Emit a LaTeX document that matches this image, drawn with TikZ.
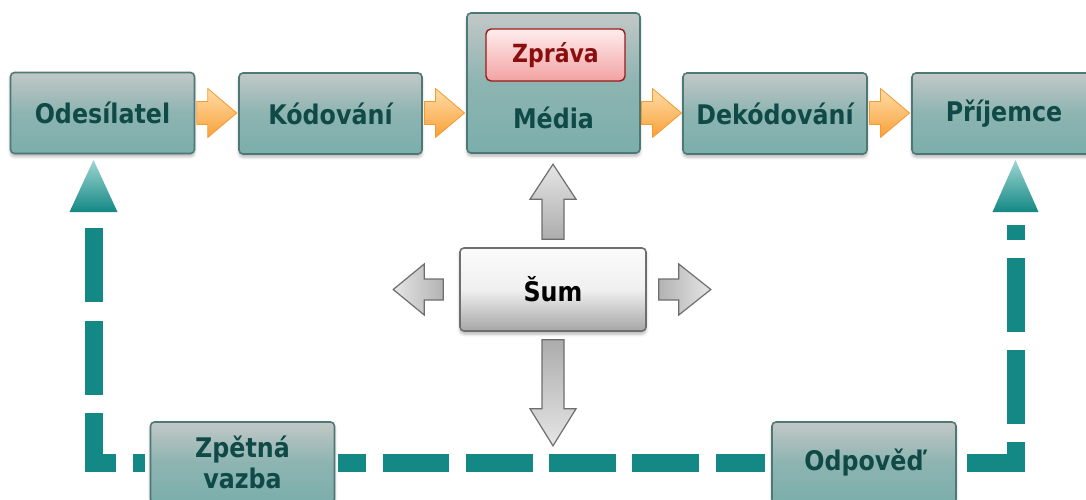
\documentclass[tikz,border=0pt]{standalone}
\usepackage{fontspec}
\setmainfont{DejaVu Sans}[FakeStretch=0.88]
\usetikzlibrary{calc,shadows.blur}
\definecolor{boxtop}{HTML}{C2C8C7}
\definecolor{boxmid}{HTML}{8DB4B1}
\definecolor{boxbot}{HTML}{7BAEAB}
\definecolor{boxborder}{HTML}{4E7875}
\definecolor{boxtext}{HTML}{0F4A47}
\definecolor{tealline}{HTML}{138884}
\definecolor{tealtop}{HTML}{9ED6D2}
\definecolor{oratop}{HTML}{FFDDA8}
\definecolor{orabot}{HTML}{F8A038}
\definecolor{oraborder}{HTML}{F39A30}
\definecolor{pinktop}{HTML}{FFEDED}
\definecolor{pinkbot}{HTML}{F2A2A2}
\definecolor{pinkborder}{HTML}{9C1A1A}
\definecolor{pinktext}{HTML}{8A0E0E}
\definecolor{graytop}{HTML}{FBFBFB}
\definecolor{graybot}{HTML}{A6A6A6}
\definecolor{grayborder}{HTML}{6E6E6E}
\tikzset{
  tealbox/.style={draw=boxborder, line width=1.6pt, rounded corners=4pt,
    top color=boxtop, bottom color=boxbot, middle color=boxmid,
    text=boxtext, font=\fontsize{27}{31}\selectfont\bfseries,
    minimum width=184pt, minimum height=81pt, inner sep=0pt, align=center,
    blur shadow={shadow xshift=0pt, shadow yshift=-3pt, shadow blur radius=3pt, shadow opacity=30}},
  msgbox/.style={draw=pinkborder, line width=1.4pt, rounded corners=5pt,
    top color=pinktop, bottom color=pinkbot,
    text=pinktext, font=\fontsize{25}{29}\selectfont\bfseries,
    minimum width=139pt, minimum height=52pt, inner sep=0pt},
  noisebox/.style={draw=grayborder, line width=1.6pt, rounded corners=4pt,
    top color=graytop, bottom color=graybot, middle color=gray!12,
    text=black, font=\fontsize{27}{31}\selectfont\bfseries,
    minimum width=186pt, minimum height=83pt, inner sep=0pt,
    blur shadow={shadow xshift=0pt, shadow yshift=-3pt, shadow blur radius=3pt, shadow opacity=30}},
  boxlabel/.style={text=boxtext, font=\fontsize{27}{31}\selectfont\bfseries, inner sep=0pt},
  orarrow/.style={draw=oraborder, line width=0.8pt, line join=round, top color=oratop, bottom color=orabot},
  grarrow/.style={draw=grayborder, line width=1.2pt, line join=miter},
  fbline/.style={draw=tealline, line width=18pt, line cap=butt, line join=miter},
  tealtri/.style={top color=tealtop, bottom color=tealline, draw=none},
}
\begin{document}
\begin{tikzpicture}[x=1pt, y=-1pt]
\useasboundingbox (0,0) rectangle (1086,500);

% main row
\node[tealbox] (ode) at (102.5,113) {Odesílatel};
\node[tealbox, minimum width=183pt] (kod) at (330.5,113.5) {Kódování};
\node[tealbox, minimum width=173pt, minimum height=140pt] (med) at (553.5,83) {};
\node[boxlabel] (medtxt) at (553.5,118) {Média};
\node[msgbox] (zpr) at (555.5,55) {Zpráva};
\node[tealbox] (dek) at (775,113.5) {Dekódování};
\node[tealbox] (pri) at (1004,113.5) {Příjemce};

% noise
\node[noisebox] (sum) at (553,289.5) {Šum};

% bottom row
\node[tealbox] (zv) at (242.5,462.5) {Zpětná\\vazba};
\node[tealbox] (odp) at (864,462.5) {Odpověď};

% orange block arrows between boxes
\foreach \a/\b in {ode/kod, kod/med, med/dek, dek/pri}{
  \path[orarrow, shift={($(\a.east |- ode.east)!0.5!(\b.west |- ode.east)$)}]
    (-20,-11.5) -- (-9,-11.5) -- (-9,-24.5) -- (20,0) -- (-9,24.5) -- (-9,11.5) -- (-20,11.5) -- cycle;
}

% gray block arrows around noise
\path[grarrow, top color=gray!20, bottom color=gray!65, shift={(sum.north)}]
  (-11,-8) -- (-11,-48) -- (-23,-48) -- (0,-83) -- (23,-48) -- (11,-48) -- (11,-8) -- cycle;
\path[grarrow, top color=gray!65, bottom color=gray!20, shift={(sum.south)}]
  (-11,8) -- (-11,77) -- (-23,77) -- (0,114) -- (23,77) -- (11,77) -- (11,8) -- cycle;
\path[grarrow, left color=gray!20, right color=gray!60, shift={(sum.west)}]
  (-16,-10.5) -- (-35,-10.5) -- (-35,-25.5) -- (-66,0) -- (-35,25.5) -- (-35,10.5) -- (-16,10.5) -- cycle;
\path[grarrow, left color=gray!60, right color=gray!20, shift={(sum.east)}]
  (12,-10.5) -- (32,-10.5) -- (32,-25.5) -- (64,0) -- (32,25.5) -- (32,10.5) -- (12,10.5) -- cycle;

% feedback connectors
\coordinate (tl) at (93.5,212);
\coordinate (tr) at (1015.5,212);
\draw[fbline, dash pattern=on 0pt off 5pt on 12pt off 17pt on 72pt off 18pt on 74pt off 19pt on 74pt off 40pt]
  (zv.west) -| (tl);
\draw[fbline, dash pattern=on 0pt off 3pt on 28pt off 17pt on 66pt off 17pt on 67pt off 16pt on 67pt off 16pt on 67pt off 17pt on 49pt off 30pt]
  (zv.east) -- (odp.west);
\draw[fbline, dash pattern=on 0pt off 10pt on 69pt off 18pt on 74pt off 18pt on 74pt off 18pt on 15pt off 40pt]
  (odp.east) -| (tr);
\path[tealtri, shift={(tl)}] (-24,0) -- (0,-52) -- (24,0) -- cycle;
\path[tealtri, shift={(tr)}] (-23,0) -- (0,-52) -- (23,0) -- cycle;
\end{tikzpicture}
\end{document}
